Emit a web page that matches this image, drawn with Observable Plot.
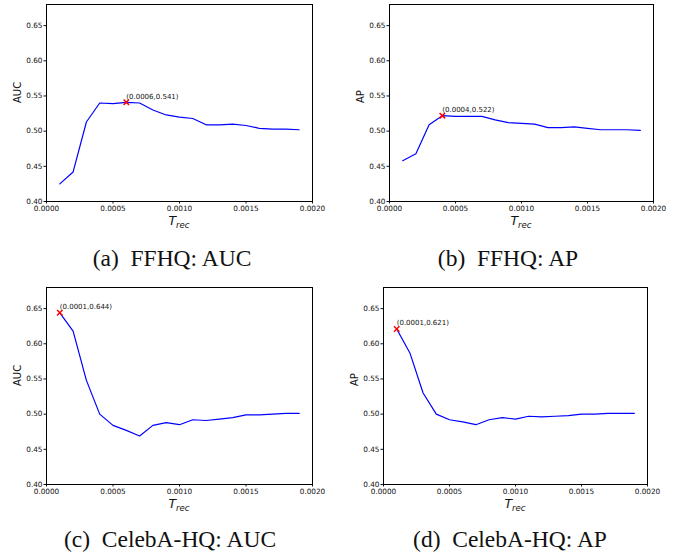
<!DOCTYPE html>
<html><head><meta charset="utf-8">
<script src="https://cdn.jsdelivr.net/npm/d3@7"></script>
<script src="https://cdn.jsdelivr.net/npm/@observablehq/plot@0.6"></script>
<style>
body{margin:0;background:#fff;}
#wrap{position:relative;width:679px;height:554px;overflow:hidden;background:#fff;}
.panel{position:absolute;}
.cap{position:absolute;font-family:"Liberation Serif",serif;font-size:23.5px;line-height:24px;white-space:pre;transform:translateX(-50%);color:#111;}
</style></head><body><div id="wrap"></div>
<script>
const tRec = [0.0001,0.0002,0.0003,0.0004,0.0005,0.0006,0.0007,0.0008,0.0009,0.0010,0.0011,0.0012,0.0013,0.0014,0.0015,0.0016,0.0017,0.0018,0.0019];
const ffhqAUC = [0.425,0.442,0.513,0.540,0.539,0.541,0.540,0.530,0.523,0.520,0.518,0.509,0.509,0.510,0.508,0.504,0.503,0.503,0.502];
const ffhqAP = [0.458,0.468,0.509,0.522,0.521,0.521,0.521,0.516,0.512,0.511,0.510,0.505,0.505,0.506,0.504,0.502,0.502,0.502,0.501];
const celebAUC = [0.644,0.618,0.548,0.500,0.484,0.477,0.469,0.484,0.488,0.485,0.492,0.491,0.493,0.495,0.499,0.499,0.500,0.501,0.501];
const celebAP = [0.621,0.587,0.530,0.500,0.492,0.489,0.485,0.492,0.495,0.493,0.497,0.496,0.497,0.498,0.500,0.500,0.501,0.501,0.501];
const yTicks = [0.40,0.45,0.50,0.55,0.60,0.65];
const xTicks = [0.0000,0.0005,0.0010,0.0015,0.0020];
const yLabels = ["AUC","AP","AUC","AP"];
const captions = ["(a)  FFHQ: AUC","(b)  FFHQ: AP","(c)  CelebA-HQ: AUC","(d)  CelebA-HQ: AP"];
const series = [ffhqAUC, ffhqAP, celebAUC, celebAP];

const layout = [
  {left:0,   top:0,   width:340, ml:46, mr:28, mt:4, mb:34, capX:172, capTop:246},
  {left:340, top:0,   width:339, ml:49, mr:26, mt:4, mb:34, capX:508, capTop:246},
  {left:0,   top:282, width:340, ml:46, mr:28, mt:5, mb:33, capX:170, capTop:527},
  {left:340, top:282, width:339, ml:43, mr:32, mt:5, mb:33, capX:510, capTop:527}
];
const H = 235;
const wrap = document.getElementById("wrap");

series.forEach((vals, k) => {
  const L = layout[k];
  const data = tRec.map((t, i) => ({t, v: vals[i]}));
  const peak = d3.greatest(data, d => d.v);
  const chart = Plot.plot({
    width: L.width, height: H,
    marginLeft: L.ml, marginRight: L.mr, marginTop: L.mt, marginBottom: L.mb,
    style: {fontFamily: "DejaVu Sans", fontSize: "7.5px", color: "#111", background: "transparent"},
    x: {domain: [0, 0.002]},
    y: {domain: [0.40, 0.68]},
    marks: [
      Plot.line(data, {x: "t", y: "v", stroke: "#0000ff", strokeWidth: 1.2}),
      Plot.dot([peak], {x: "t", y: "v", symbol: "times", stroke: "red", r: 2.6, strokeWidth: 1.5}),
      Plot.text([peak], {x: "t", y: "v", text: d => `(${d.t.toFixed(4)},${d.v.toFixed(3)})`, textAnchor: "start", dy: -6, fontSize: 7, fill: "#111"}),
      Plot.axisX({ticks: xTicks, tickFormat: d3.format(".4f"), tickSize: 2.5, tickPadding: 2, label: null, fontSize: 7.3}),
      Plot.axisY({ticks: yTicks, tickFormat: d3.format(".2f"), tickSize: 2.5, tickPadding: 1.5, label: null, fontSize: 7.3}),
      Plot.text([yLabels[k]], {text: d => d, frameAnchor: "left", rotate: -90, dx: -29, fontSize: 10, fill: "#111"}),
      Plot.frame({stroke: "#000", strokeWidth: 1})
    ]
  });
  const svg = d3.select(chart);
  const cx = L.ml + (L.width - L.ml - L.mr) / 2;
  const t = svg.append("text")
    .attr("x", cx).attr("y", H - L.mb + 24)
    .attr("text-anchor", "middle")
    .attr("font-family", "DejaVu Sans")
    .attr("font-style", "italic")
    .attr("fill", "#111");
  t.append("tspan").attr("font-size", 12.5).text("T");
  t.append("tspan").attr("font-size", 8.5).attr("dy", 2.5).text("rec");
  const div = document.createElement("div");
  div.className = "panel";
  div.style.left = L.left + "px";
  div.style.top = L.top + "px";
  div.appendChild(chart);
  wrap.appendChild(div);
  const cap = document.createElement("div");
  cap.className = "cap";
  cap.style.left = L.capX + "px";
  cap.style.top = L.capTop + "px";
  cap.textContent = captions[k];
  wrap.appendChild(cap);
});
</script></body></html>
